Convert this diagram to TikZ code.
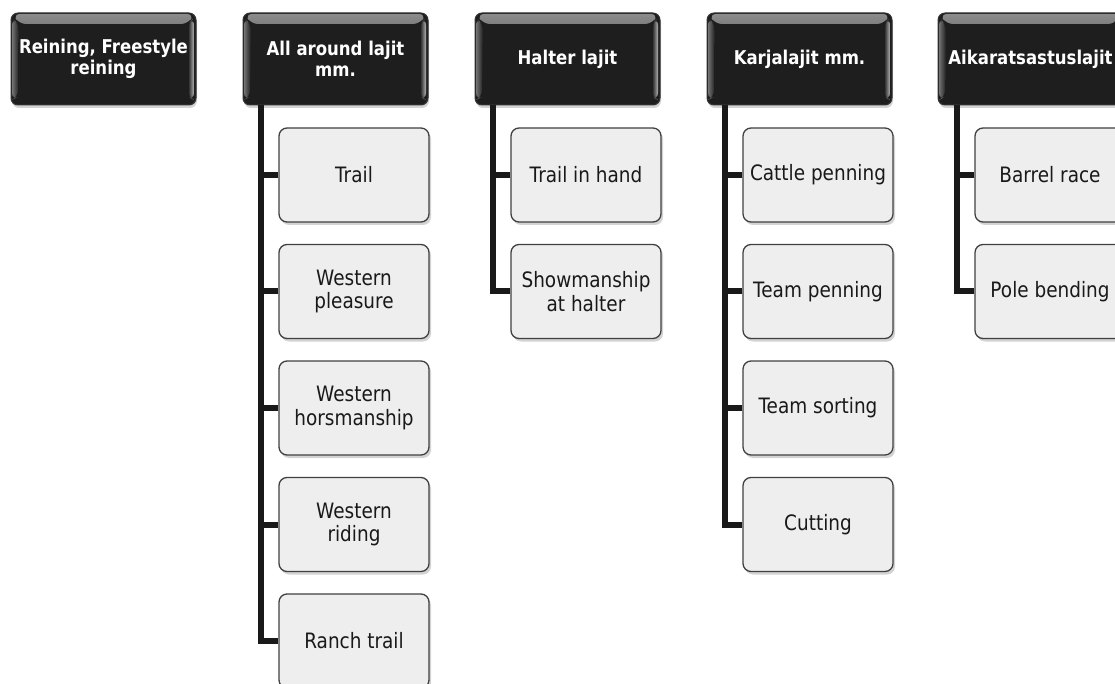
\documentclass[tikz,border=0pt]{standalone}
\usepackage{fontspec}
\setmainfont[FakeStretch=0.87]{DejaVu Sans}
\usepackage{tikz}
\usetikzlibrary{shadows}

\definecolor{headdark}{HTML}{1E1E1E}
\definecolor{subfill}{HTML}{EEEEEE}

\begin{document}
\begin{tikzpicture}[x=1pt,y=-1pt,
    head/.style={rounded corners=7pt, fill=headdark, draw=black!80, line width=1pt,
        text=white, font=\fontsize{19}{21}\selectfont\bfseries, align=center,
        minimum width=185pt, minimum height=92pt, inner sep=3pt,
        drop shadow={opacity=0.35, shadow xshift=1pt, shadow yshift=-3pt},
        path picture={
            \fill[top color=black!45, bottom color=headdark]
                ([xshift=2pt,yshift=-1pt]path picture bounding box.north west)
                -- ([xshift=-2pt,yshift=-1pt]path picture bounding box.north east)
                -- ([xshift=-8pt,yshift=-11pt]path picture bounding box.north east)
                -- ([xshift=8pt,yshift=-11pt]path picture bounding box.north west) -- cycle;
            \fill[left color=headdark, right color=black!30]
                ([xshift=-8pt,yshift=-11pt]path picture bounding box.north east)
                -- ([xshift=-2pt,yshift=-5pt]path picture bounding box.north east)
                -- ([xshift=-2pt,yshift=5pt]path picture bounding box.south east)
                -- ([xshift=-8pt,yshift=8pt]path picture bounding box.south east) -- cycle;
            \fill[left color=black!55, right color=headdark]
                ([xshift=1pt,yshift=-5pt]path picture bounding box.north west)
                -- ([xshift=8pt,yshift=-11pt]path picture bounding box.north west)
                -- ([xshift=7pt,yshift=8pt]path picture bounding box.south west)
                -- ([xshift=1pt,yshift=5pt]path picture bounding box.south west) -- cycle;
        }},
    sub/.style={rounded corners=8pt, fill=subfill, draw=black!75, line width=1.3pt,
        text=black!90, font=\fontsize{21.2}{23.5}\selectfont, align=center,
        minimum width=150pt, minimum height=94pt, inner sep=3pt,
        drop shadow={opacity=0.35, shadow xshift=2pt, shadow yshift=-3pt}},
    link/.style={line width=6pt, draw=black!90}]
    \useasboundingbox (0,0) rectangle (1115,684);

    % main groups
    \node[head] (reining) at (103.5,59) {Reining, Freestyle\\reining};
    \node[head] (allaround) at (335.5,59) {All around lajit\\mm.};
    \node[head] (halter) at (567.5,59) {Halter lajit};
    \node[head] (karja) at (799.5,59) {Karjalajit mm.};
    \node[head] (aika) at (1030.5,59) {Aikaratsastuslajit};

    % all around
    \node[sub] (trail) at (354,175) {Trail};
    \node[sub] (pleasure) at (354,291.5) {Western\\pleasure};
    \node[sub] (horsman) at (354,408) {Western\\horsmanship};
    \node[sub] (riding) at (354,524.5) {Western\\riding};
    \node[sub] (ranch) at (354,641) {Ranch trail};

    % halter
    \node[sub] (inhand) at (586,175) {Trail in hand};
    \node[sub] (showman) at (586,291.5) {Showmanship\\at halter};

    % karja
    \node[sub] (cattle) at (818,175) {Cattle penning};
    \node[sub] (teampen) at (818,291.5) {Team penning};
    \node[sub] (sorting) at (818,408) {Team sorting};
    \node[sub] (cutting) at (818,524.5) {Cutting};

    % aika
    \node[sub] (barrel) at (1050,175) {Barrel race};
    \node[sub] (pole) at (1050,291.5) {Pole bending};

    \draw[link] ([xshift=18pt]allaround.south west) |- (trail.west);
    \draw[link] ([xshift=18pt]allaround.south west) |- (pleasure.west);
    \draw[link] ([xshift=18pt]allaround.south west) |- (horsman.west);
    \draw[link] ([xshift=18pt]allaround.south west) |- (riding.west);
    \draw[link] ([xshift=18pt]allaround.south west) |- (ranch.west);

    \draw[link] ([xshift=18pt]halter.south west) |- (inhand.west);
    \draw[link] ([xshift=18pt]halter.south west) |- (showman.west);

    \draw[link] ([xshift=18pt]karja.south west) |- (cattle.west);
    \draw[link] ([xshift=18pt]karja.south west) |- (teampen.west);
    \draw[link] ([xshift=18pt]karja.south west) |- (sorting.west);
    \draw[link] ([xshift=18pt]karja.south west) |- (cutting.west);

    \draw[link] ([xshift=19pt]aika.south west) |- (barrel.west);
    \draw[link] ([xshift=19pt]aika.south west) |- (pole.west);
\end{tikzpicture}
\end{document}
